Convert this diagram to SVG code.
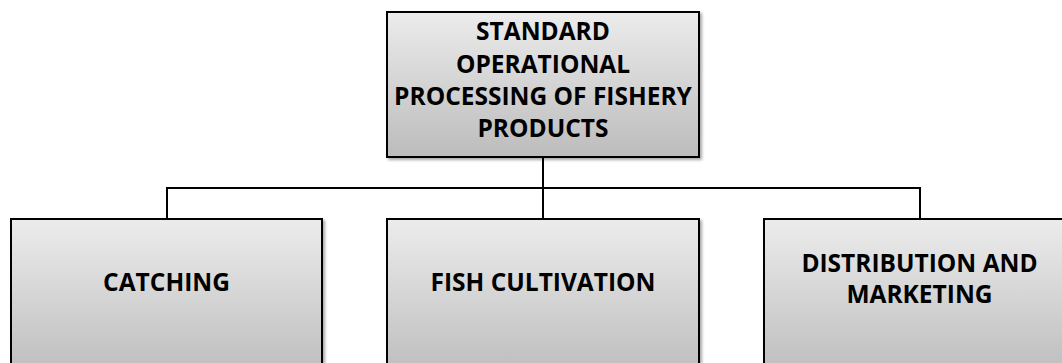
<svg xmlns="http://www.w3.org/2000/svg" width="1062" height="363" viewBox="0 0 1062 363">
<style>
.box{stroke:#000;stroke-width:2;fill:url(#g)}
.lbl{font-family:"Open Sans","Liberation Sans",sans-serif;font-weight:bold;font-size:24.5px;fill:#000;text-anchor:middle}
.conn{stroke:#000;stroke-width:2;fill:none}
</style>
<defs>
<linearGradient id="g" x1="0" y1="0" x2="0" y2="1">
<stop offset="0" stop-color="#ececec"/>
<stop offset="1" stop-color="#bcbcbc"/>
</linearGradient>
<filter id="sh" x="-5%" y="-5%" width="115%" height="115%">
<feGaussianBlur in="SourceAlpha" stdDeviation="1.5"/>
<feOffset dx="2" dy="2"/>
<feComponentTransfer><feFuncA type="linear" slope="0.35"/></feComponentTransfer>
<feMerge><feMergeNode/><feMergeNode in="SourceGraphic"/></feMerge>
</filter>
</defs>
<g id="connectors">
<path class="conn" d="M543 157 V219"/>
<path class="conn" d="M167 219 V188 H920 V219"/>
</g>
<g id="root">
<rect class="box" filter="url(#sh)" x="387" y="12" width="312" height="145"/>
<text class="lbl" x="543" y="40">STANDARD</text>
<text class="lbl" x="543" y="72.5">OPERATIONAL</text>
<text class="lbl" x="543" y="104.5">PROCESSING OF FISHERY</text>
<text class="lbl" x="543" y="137">PRODUCTS</text>
</g>
<g id="catching">
<rect class="box" filter="url(#sh)" x="11" y="219" width="311" height="160"/>
<text class="lbl" x="166.5" y="290.5">CATCHING</text>
</g>
<g id="cultivation">
<rect class="box" filter="url(#sh)" x="387" y="219" width="312" height="160"/>
<text class="lbl" x="543" y="290.5">FISH CULTIVATION</text>
</g>
<g id="distribution">
<rect class="box" filter="url(#sh)" x="764" y="219" width="312" height="160"/>
<text class="lbl" x="919.5" y="271.5">DISTRIBUTION AND</text>
<text class="lbl" x="919.5" y="303">MARKETING</text>
</g>
</svg>
